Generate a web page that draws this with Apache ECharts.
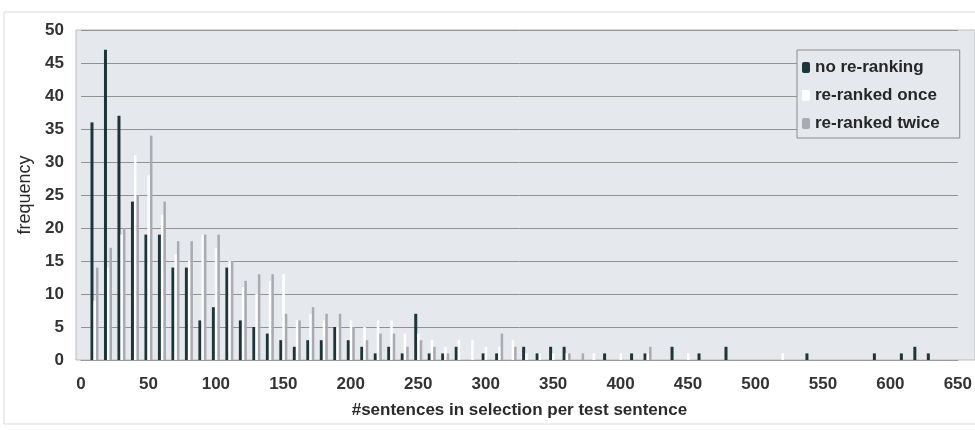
<!DOCTYPE html>
<html>
<head>
<meta charset="utf-8">
<script src="https://cdn.jsdelivr.net/npm/echarts@6/dist/echarts.min.js"></script>
<style>
  html, body { margin: 0; padding: 0; background: #ffffff; }
  #chart { width: 975px; height: 430px; }
</style>
</head>
<body>
<div id="chart"></div>
<script>
// Bin upper bounds (#sentences in selection), one bar group per bin
const bins = [
  10, 20, 30, 40, 50, 60, 70, 80, 90, 100,
  110, 120, 130, 140, 150, 160, 170, 180, 190, 200,
  210, 220, 230, 240, 250, 260, 270, 280, 290, 300,
  310, 320, 330, 340, 350, 360, 370, 380, 390, 400,
  410, 420, 430, 440, 450, 460, 470, 480, 490, 500,
  510, 520, 530, 540, 550, 560, 570, 580, 590, 600,
  610, 620, 630
];

const noReranking = [
  36, 47, 37, 24, 19, 19, 14, 14, 6, 8,
  14, 6, 5, 4, 3, 2, 3, 3, 5, 3,
  2, 1, 2, 1, 7, 1, 1, 2, 0, 1,
  1, 0, 2, 1, 2, 2, 0, 0, 1, 0,
  1, 1, 0, 2, 0, 1, 0, 2, 0, 0,
  0, 0, 0, 1, 0, 0, 0, 0, 1, 0,
  1, 2, 1
];

const rerankedOnce = [
  9, 14, 19, 31, 28, 22, 16, 15, 19, 17,
  15, 11, 10, 12, 13, 6, 7, 6, 5, 6,
  5, 6, 6, 4, 4, 3, 2, 3, 3, 2,
  2, 3, 1, 1, 1, 1, 0, 1, 0, 1,
  0, 1, 0, 0, 1, 0, 0, 0, 0, 0,
  0, 1, 0, 0, 0, 0, 0, 0, 0, 0,
  0, 0, 0
];

const rerankedTwice = [
  14, 17, 20, 25, 34, 24, 18, 18, 19, 19,
  15, 12, 13, 13, 7, 6, 8, 7, 7, 5,
  3, 4, 4, 2, 3, 2, 1, 0, 0, 0,
  4, 2, 0, 0, 0, 1, 1, 0, 0, 0,
  0, 2, 0, 0, 0, 0, 0, 0, 0, 0,
  0, 0, 0, 0, 0, 0, 0, 0, 0, 0,
  0, 0, 0
];

const xTicks = { min: 0, max: 650, step: 50 };
const yTicks = { min: 0, max: 50, step: 5 };

const pairs = (vals) => bins.map((b, i) => [b, vals[i]]);

const FONT = '"Liberation Sans", Arial, sans-serif';
const chart = echarts.init(document.getElementById('chart'), null, { renderer: 'canvas' });

chart.setOption({
  animation: false,
  backgroundColor: '#ffffff',
  graphic: [
    // outer frame of the chart
    { type: 'rect', z: -20, silent: true,
      shape: { x: 4, y: 12, width: 975, height: 412 },
      style: { fill: '#ffffff', stroke: '#dadada', lineWidth: 1 } },
    // plot area fill
    { type: 'rect', z: -10, silent: true,
      shape: { x: 76, y: 30, width: 899, height: 330 },
      style: { fill: '#e5e8ed', stroke: '#bcbcbc', lineWidth: 1 } }
  ],
  grid: { left: 81, right: 13, top: 30, bottom: 70 },
  legend: {
    orient: 'vertical',
    left: 797, top: 50,
    padding: [9, 20, 6, 5],
    itemWidth: 8, itemHeight: 11, itemGap: 11,
    backgroundColor: '#e5e8ed',
    borderColor: '#8a8a8a', borderWidth: 1,
    textStyle: { fontFamily: FONT, fontWeight: 'bold', fontSize: 17, color: '#262626' },
    data: ['no re-ranking', 're-ranked once', 're-ranked twice']
  },
  xAxis: {
    type: 'value',
    min: xTicks.min, max: xTicks.max, interval: xTicks.step,
    name: '#sentences in selection per test sentence',
    nameLocation: 'middle', nameGap: 42,
    nameTextStyle: { fontFamily: FONT, fontWeight: 'bold', fontSize: 17, color: '#2a2a2a' },
    axisLine: { show: true, lineStyle: { color: '#9a9a9a', width: 1 } },
    axisTick: { show: false },
    splitLine: { show: false },
    axisLabel: { fontFamily: FONT, fontWeight: 'bold', fontSize: 17, color: '#333', margin: 16 }
  },
  yAxis: {
    type: 'value',
    min: yTicks.min, max: yTicks.max, interval: yTicks.step,
    name: 'frequency',
    nameLocation: 'middle', nameGap: 47,
    nameTextStyle: { fontFamily: FONT, fontSize: 18, color: '#2a2a2a' },
    axisLine: { show: false },
    axisTick: { show: false },
    splitLine: { show: true, lineStyle: { color: '#929292', width: 1 } },
    axisLabel: { fontFamily: FONT, fontWeight: 'bold', fontSize: 17, color: '#333', margin: 17 }
  },
  series: [
    { name: 'no re-ranking', type: 'bar', data: pairs(noReranking),
      barWidth: 3, barGap: '0%',
      itemStyle: { color: '#1d3539' } },
    { name: 're-ranked once', type: 'bar', data: pairs(rerankedOnce),
      barWidth: 2.5, barGap: '0%',
      itemStyle: { color: '#ffffff' } },
    { name: 're-ranked twice', type: 'bar', data: pairs(rerankedTwice),
      barWidth: 2.5, barGap: '0%',
      itemStyle: { color: '#a9aab2' } }
  ]
});
</script>
</body>
</html>
